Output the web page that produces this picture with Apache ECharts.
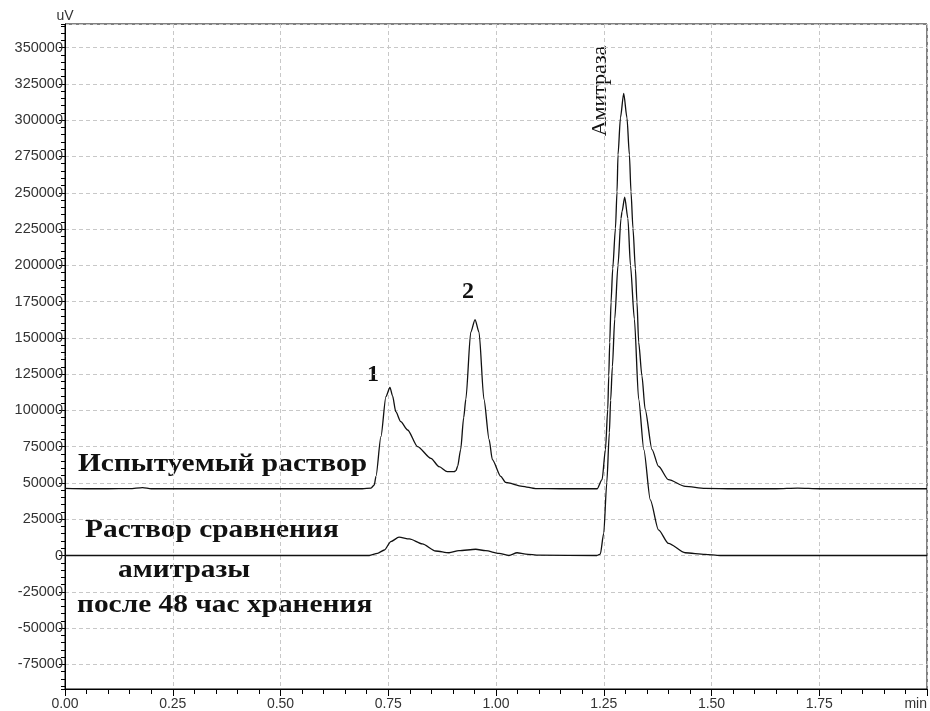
<!DOCTYPE html>
<html>
<head>
<meta charset="utf-8">
<script src="https://cdn.jsdelivr.net/npm/echarts@6/dist/echarts.min.js"></script>
<style>
  html, body { margin: 0; padding: 0; background: #ffffff; }
  #chart { width: 930px; height: 711px; }
</style>
</head>
<body>
<div id="chart"></div>
<script>
// Испытуемый раствор: retention time (min) and detector signal (uV)
const sampleTimes = [
  0.00, 0.05, 0.10, 0.15, 0.18, 0.20, 0.30, 0.40, 0.50, 0.60, 0.69,
  0.710, 0.7176, 0.7215, 0.733, 0.7446, 0.754, 0.760, 0.7675, 0.779, 0.795,
  0.818, 0.849, 0.868, 0.887, 0.903, 0.907, 0.911, 0.918, 0.925, 0.930,
  0.9414, 0.9514, 0.9606, 0.972, 0.984, 0.9915, 1.011, 1.0224, 1.061, 1.092,
  1.15, 1.23, 1.2345, 1.2461, 1.2539, 1.2593, 1.2616, 1.2639, 1.2669, 1.2708,
  1.2771, 1.2808, 1.2831, 1.2887, 1.2963, 1.3039, 1.3095, 1.3132, 1.3178, 1.3234,
  1.3271, 1.3310, 1.3386, 1.346, 1.362, 1.377, 1.400, 1.439, 1.485, 1.55,
  1.65, 1.70, 1.75, 1.85, 2.00
];
const sampleSignal = [
  46200, 46000, 46000, 46100, 46800, 46000, 46000, 46000, 46000, 46000, 46000,
  46500, 48600, 54600, 81900, 109500, 115800, 110000, 99100, 92200, 86500,
  75000, 67000, 61200, 57800, 57800, 58500, 61500, 73000, 95000, 107700,
  153900, 162600, 153900, 107700, 80000, 66100, 54600, 50400, 47700, 46100,
  46000, 46000, 46000, 52300, 73000, 100800, 123800, 147000, 174600, 197700,
  225400, 250800, 276200, 301600, 318500, 301600, 276200, 250800, 225400, 197700,
  174600, 147000, 123800, 100800, 73000, 61500, 52300, 47600, 46300, 46000,
  46000, 46500, 46000, 46000, 46000
];

// Раствор сравнения амитразы после 48 час хранения
const referenceTimes = [
  0.00, 0.20, 0.40, 0.60, 0.706, 0.725, 0.741, 0.756, 0.775, 0.799,
  0.829, 0.860, 0.891, 0.914, 0.953, 0.976, 1.007, 1.030, 1.049, 1.069,
  1.100, 1.234, 1.242, 1.250, 1.257, 1.263, 1.266, 1.270, 1.2755, 1.283,
  1.290, 1.2924, 1.2986, 1.306, 1.312, 1.321, 1.331, 1.343, 1.358, 1.377,
  1.400, 1.439, 1.485, 1.52, 1.75, 2.00
];
const referenceSignal = [
  0, 0, 0, 0, 0, 1500, 3800, 9600, 12600, 11400,
  8000, 3100, 1900, 3300, 4300, 3300, 1500, 0, 1900, 1000,
  300, 0, 1000, 15400, 50000, 84600, 107000, 130000, 163000, 200000,
  232300, 237000, 247000, 232300, 200000, 163000, 107700, 73000, 38400, 17700,
  8400, 1900, 800, 0, 0, 0
];

// Axis extents and tick spacing
const timeRange = [0, 2];
const timeStep = 0.25;
const signalRange = [-92000, 366300];
const signalStep = 25000;
const signalMinorStep = 5000;

const zip = (xs, ys) => xs.map((x, i) => [x, ys[i]]);

const serif = '"Liberation Serif", "Times New Roman", serif';
const sans = '"Liberation Sans", Arial, sans-serif';
const captionFont = 'bold 26px ' + serif;
const captionStretch = 1.13;

const chart = echarts.init(document.getElementById('chart'), null, { renderer: 'canvas' });

const caption = (text, x, y) => ({
  type: 'text', x, y, scaleX: captionStretch,
  style: { text, font: captionFont, fill: '#111111', verticalAlign: 'middle' }
});

chart.setOption({
  animation: false,
  backgroundColor: '#ffffff',
  grid: {
    left: 65, right: 1, top: 24, bottom: 22,
    show: true, borderColor: '#000000', borderWidth: 1, backgroundColor: 'transparent'
  },
  xAxis: {
    type: 'value',
    min: timeRange[0], max: timeRange[1], interval: timeStep,
    axisLine: { show: true, onZero: false, lineStyle: { color: '#000000', width: 1 } },
    axisTick: { show: true, length: 7, lineStyle: { color: '#000000' } },
    minorTick: { show: true, splitNumber: 5, length: 5, lineStyle: { color: '#000000' } },
    splitLine: { show: true, lineStyle: { color: '#c8c8c8', type: [4, 3], width: 1 } },
    axisLabel: {
      show: true, margin: 8, fontFamily: sans, fontSize: 14, color: '#333333',
      alignMaxLabel: 'right',
      formatter: v => (v >= timeRange[1] ? 'min' : v.toFixed(2))
    }
  },
  yAxis: [
    {
      type: 'value',
      min: signalRange[0], max: signalRange[1],
      minInterval: signalStep, maxInterval: signalStep, splitNumber: 18,
      name: 'uV', nameLocation: 'end', nameGap: 1,
      nameTextStyle: { fontFamily: sans, fontSize: 14, color: '#333333', align: 'center', verticalAlign: 'bottom' },
      axisLine: { show: true, onZero: false, lineStyle: { color: '#000000', width: 1 } },
      axisTick: { show: true, length: 6, lineStyle: { color: '#000000' } },
      splitLine: { show: true, lineStyle: { color: '#c8c8c8', type: [4, 3], width: 1 } },
      axisLabel: {
        show: true, margin: 2, fontFamily: sans, fontSize: 14.5, color: '#333333',
        showMinLabel: false, showMaxLabel: false,
        formatter: v => String(v)
      }
    },
    {
      // minor tick marks every 5000 uV
      type: 'value', position: 'left',
      min: signalRange[0], max: signalRange[1],
      minInterval: signalMinorStep, maxInterval: signalMinorStep, splitNumber: 90,
      axisLine: { show: false },
      axisTick: { show: true, length: 4, lineStyle: { color: '#000000' } },
      splitLine: { show: false },
      axisLabel: { show: false }
    }
  ],
  series: [
    {
      name: 'Испытуемый раствор', type: 'line', yAxisIndex: 0,
      data: zip(sampleTimes, sampleSignal),
      showSymbol: false, smooth: 0.25, smoothMonotone: 'x',
      lineStyle: { color: '#111111', width: 1.3 }, z: 5
    },
    {
      name: 'Раствор сравнения', type: 'line', yAxisIndex: 0,
      data: zip(referenceTimes, referenceSignal),
      showSymbol: false, smooth: 0.25, smoothMonotone: 'x',
      lineStyle: { color: '#111111', width: 1.3 }, z: 5
    }
  ],
  graphic: [
    { type: 'text', left: 367, top: 363, style: { text: '1', font: 'bold 24px ' + serif, fill: '#111111' } },
    { type: 'text', left: 462, top: 280, style: { text: '2', font: 'bold 24px ' + serif, fill: '#111111' } },
    {
      type: 'text', x: 600, y: 91, rotation: Math.PI / 2,
      style: { text: 'Амитраза', font: '22px ' + serif, fill: '#111111', align: 'center', verticalAlign: 'middle' }
    },
    caption('Испытуемый раствор', 78, 464),
    caption('Раствор сравнения', 85, 530),
    caption('амитразы', 118, 570),
    caption('после 48 час хранения', 77, 605)
  ]
});
</script>
</body>
</html>
